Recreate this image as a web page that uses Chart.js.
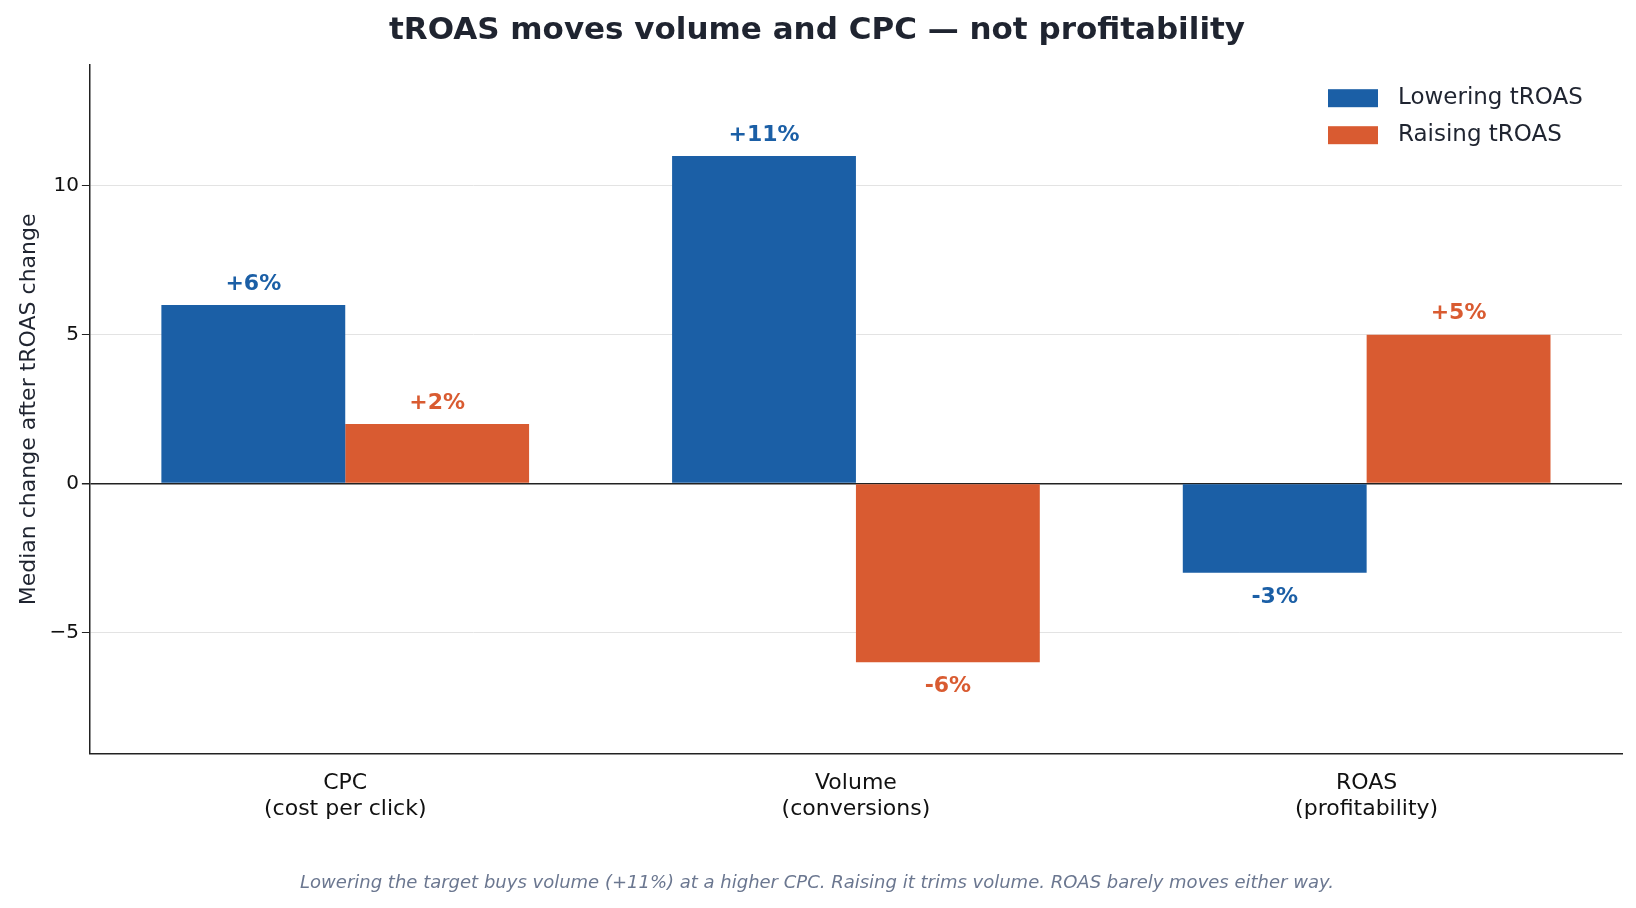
<!DOCTYPE html>
<html>
<head>
<meta charset="utf-8">
<script src="https://cdn.jsdelivr.net/npm/chart.js@4"></script>
<style>
  body { margin: 0; background: #fff; }
</style>
</head>
<body>
<canvas id="chart" width="1636" height="908"></canvas>
<script>
// datos del grafico
const categories = [["CPC", "(cost per click)"], ["Volume", "(conversions)"], ["ROAS", "(profitability)"]];
const lowering = [6, 11, -3];
const raising = [2, -6, 5];
const seriesNames = ["Lowering tROAS", "Raising tROAS"];
const yTicks = [-5, 0, 5, 10];

const BLUE = "#1b5fa6";
const ORANGE = "#d95b31";
const FONT = "DejaVu Sans";

// etiquetas encima / debajo de las barras, y la leyenda
const barLabels = {
  id: "barLabels",
  afterDatasetsDraw(chart) {
    const ctx = chart.ctx;
    ctx.save();
    ctx.font = "bold 22px " + FONT;
    ctx.textAlign = "center";
    chart.data.datasets.forEach((ds, i) => {
      chart.getDatasetMeta(i).data.forEach((bar, j) => {
        const v = ds.data[j];
        ctx.fillStyle = ds.backgroundColor;
        const txt = (v > 0 ? "+" : "") + v + "%";
        if (v >= 0) {
          ctx.textBaseline = "bottom";
          ctx.fillText(txt, bar.x, bar.y - 10);
        } else {
          ctx.textBaseline = "top";
          ctx.fillText(txt, bar.x, bar.y + 13);
        }
      });
    });
    const area = chart.chartArea;
    ctx.font = "23px " + FONT;
    ctx.textAlign = "left";
    ctx.textBaseline = "middle";
    chart.data.datasets.forEach((ds, i) => {
      const y = area.top + 33 + i * 37;
      ctx.fillStyle = ds.backgroundColor;
      ctx.fillRect(area.right - 294, y - 9, 50, 18);
      ctx.fillStyle = "#1f2430";
      ctx.fillText(ds.label, area.right - 224, y);
    });
    ctx.restore();
  }
};

new Chart(document.getElementById("chart"), {
  type: "bar",
  data: {
    labels: categories,
    datasets: [
      { label: seriesNames[0], data: lowering, backgroundColor: BLUE },
      { label: seriesNames[1], data: raising, backgroundColor: ORANGE }
    ]
  },
  options: {
    responsive: false,
    animation: false,
    devicePixelRatio: 1,
    layout: { padding: { left: 12, right: 14, top: 2, bottom: 0 } },
    datasets: { bar: { categoryPercentage: 0.72, barPercentage: 1 } },
    plugins: {
      legend: { display: false },
      tooltip: { enabled: false },
      title: {
        display: true,
        text: "tROAS moves volume and CPC \u2014 not profitability",
        color: "#1f2430",
        font: { family: FONT, size: 31, weight: "bold" },
        padding: { top: 10, bottom: 16 }
      },
      subtitle: {
        display: true,
        position: "bottom",
        text: "Lowering the target buys volume (+11%) at a higher CPC. Raising it trims volume. ROAS barely moves either way.",
        color: "#6b7790",
        font: { family: FONT, size: 18, style: "italic" },
        padding: { top: 42, bottom: 14 }
      }
    },
    scales: {
      x: {
        offset: true,
        grid: { display: false, tickLength: 8, tickColor: "#222" },
        border: { color: "#222", width: 1.5 },
        ticks: { color: "#111", font: { family: FONT, size: 22 }, padding: 8 }
      },
      y: {
        min: -9.07,
        max: 14.05,
        afterBuildTicks(axis) { axis.ticks = yTicks.map(v => ({ value: v })); },
        grid: {
          color: ctx => ctx.tick && ctx.tick.value === 0 ? "#222" : "#e3e3e3",
          lineWidth: ctx => ctx.tick && ctx.tick.value === 0 ? 1.5 : 1,
          tickLength: 8, tickColor: "#222"
        },
        border: { color: "#222", width: 1.5 },
        ticks: {
          color: "#111",
          font: { family: FONT, size: 20 },
          callback: v => (v < 0 ? "\u2212" + Math.abs(v) : "" + v)
        },
        title: {
          display: true,
          text: "Median change after tROAS change",
          color: "#1f2430",
          font: { family: FONT, size: 22 }
        }
      }
    }
  },
  plugins: [barLabels]
});
</script>
</body>
</html>
